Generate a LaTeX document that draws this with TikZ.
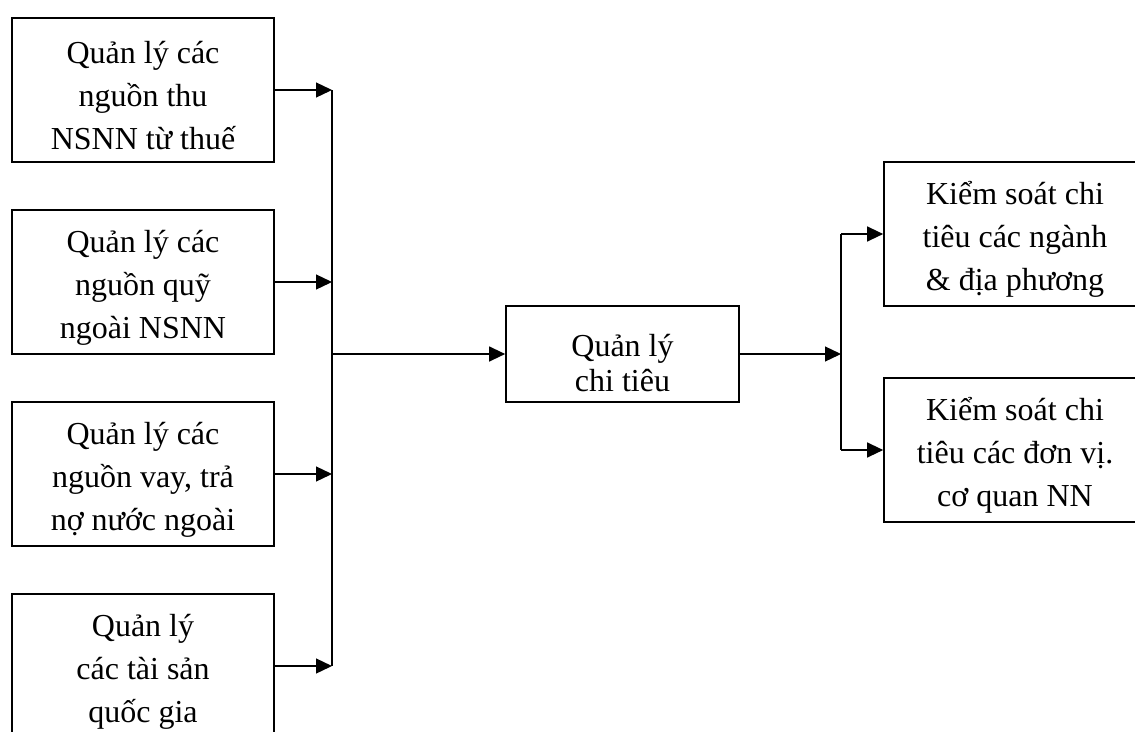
\documentclass[tikz,border=0pt]{standalone}
\usepackage{fontspec}
\setmainfont{Liberation Serif}
\usepackage{tikz}
\usetikzlibrary{arrows.meta,positioning}

\newcommand{\tstrut}{\rule{0pt}{34pt}}
\tikzset{
  box/.style={draw, line width=1.7pt, minimum width=262pt, minimum height=144pt,
    align=center, inner sep=0pt, font=\fontsize{32}{43}\selectfont},
  conn/.style={line width=1.3pt},
  arr/.style={conn, -{Triangle[length=16pt,width=15pt]}}
}

\begin{document}
\begin{tikzpicture}[x=1pt,y=-1pt]
\useasboundingbox (0,0) rectangle (1135,731);
% left column
\node[box] (tax) at (143,90) {\tstrut Quản lý các\\nguồn thu\\NSNN từ thuế};
\node[box] (fund) at (143,282) {\tstrut Quản lý các\\nguồn quỹ\\ngoài NSNN};
\node[box] (loan) at (143,474) {\tstrut Quản lý các\\nguồn vay, trả\\nợ nước ngoài};
\node[box] (asset) at (143,666) {\tstrut Quản lý\\các tài sản\\quốc gia};
% middle
\node[draw, line width=1.7pt, minimum width=233pt, minimum height=96pt] (spend) at (622.5,354) {};
\node[font=\fontsize{32}{35}\selectfont, align=center, inner sep=0pt] (spendtext) at (622.5,363) {Quản lý\\chi tiêu};
% right column
\node[box] (sector) at (1015,234) {\tstrut Kiểm soát chi\\tiêu các ngành\\\& địa phương};
\node[box] (agency) at (1015,450) {\tstrut Kiểm soát chi\\tiêu các đơn vị.\\cơ quan NN};
% junctions
\coordinate (j1) at (332,90);
\coordinate (j2) at (332,282);
\coordinate (j3) at (332,474);
\coordinate (j4) at (332,666);
\coordinate (jm) at (332,354);
\coordinate (k) at (841,354);
\coordinate (k1) at (841,234);
\coordinate (k2) at (841,450);
\draw[conn] (j1) -- (j4);
\draw[arr] (tax.east) -- (j1);
\draw[arr] (fund.east) -- (j2);
\draw[arr] (loan.east) -- (j3);
\draw[arr] (asset.east) -- (j4);
\draw[arr] (jm) -- (spend.west);
\draw[arr] (spend.east) -- (k);
\draw[conn] (k1) -- (k2);
\draw[arr] (k1) -- (sector.west);
\draw[arr] (k2) -- (agency.west);
\end{tikzpicture}
\end{document}
